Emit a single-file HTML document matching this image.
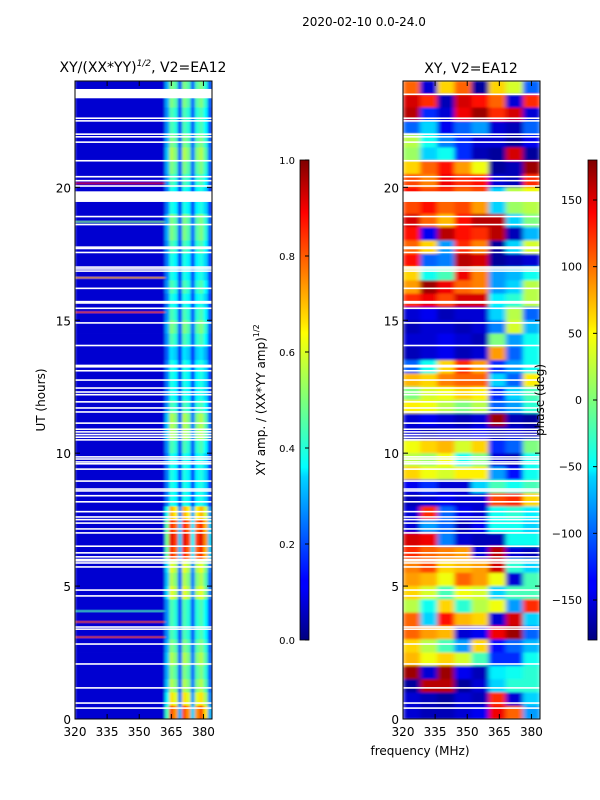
<!DOCTYPE html>
<html><head><meta charset="utf-8"><style>
html,body{margin:0;padding:0;background:#fff;}
svg{display:block;font-family:"DejaVu Sans","Liberation Sans",sans-serif;}
</style></head><body>
<svg id="fig" width="600" height="800" viewBox="0 0 600 800" xmlns="http://www.w3.org/2000/svg">
<defs>
<linearGradient id="jet" x1="0" y1="1" x2="0" y2="0">
<stop offset="0" stop-color="#00007f"/><stop offset="0.11" stop-color="#0000ff"/><stop offset="0.125" stop-color="#0000ff"/><stop offset="0.34" stop-color="#00d4ff"/><stop offset="0.36" stop-color="#0ff"/><stop offset="0.5" stop-color="#7dff7a"/><stop offset="0.64" stop-color="#ff0"/><stop offset="0.66" stop-color="#ffe600"/><stop offset="0.89" stop-color="#f00"/><stop offset="1" stop-color="#7f0000"/>
</linearGradient>
<clipPath id="clipL"><rect x="75" y="81" width="137" height="638"/></clipPath>
<clipPath id="clipR"><rect x="403" y="81" width="137" height="638"/></clipPath>
<filter id="soft" x="-5%" y="-5%" width="110%" height="110%"><feGaussianBlur stdDeviation="1.2 0.6"/></filter>
<filter id="softP" x="-5%" y="-5%" width="110%" height="110%"><feGaussianBlur stdDeviation="2.5 1.0"/></filter>
</defs>
<rect x="0" y="0" width="600" height="800" fill="#fff"/>
<text x="364" y="26" font-size="12" text-anchor="middle">2020-02-10 0.0-24.0</text>
<text x="143" y="72" font-size="14" text-anchor="middle">XY/(XX*YY)<tspan font-size="9" font-style="italic" dy="-6">1/2</tspan><tspan dy="6">, V2=EA12</tspan></text>
<text x="471" y="73" font-size="14" text-anchor="middle">XY, V2=EA12</text>
<g clip-path="url(#clipL)"><g id="ampCells" filter="url(#soft)"></g></g>
<g clip-path="url(#clipR)"><g id="phCells" filter="url(#softP)"></g></g>
<g id="flags"></g>
<g id="axes"></g>
<rect x="300" y="160" width="9" height="480" fill="url(#jet)" stroke="#000" stroke-width="0.8"/>
<rect x="588" y="160" width="9" height="480" fill="url(#jet)" stroke="#000" stroke-width="0.8"/>
<g id="cbar"></g>
<text transform="translate(265,400) rotate(-90)" font-size="12" text-anchor="middle">XY amp. / (XX*YY amp)<tspan font-size="8" dy="-6">1/2</tspan></text>
<text transform="translate(544,400) rotate(-90)" font-size="12" text-anchor="middle">phase (deg)</text>
<text transform="translate(45,400) rotate(-90)" font-size="12" text-anchor="middle">UT (hours)</text>
<text x="420" y="755" font-size="12" text-anchor="middle">frequency (MHz)</text>
</svg>
<script>
// ---- data ----
var freqTicks = [320, 335, 350, 365, 380];
var timeTicks = [0, 5, 10, 15, 20];
var ampTicks = [0.0, 0.2, 0.4, 0.6, 0.8, 1.0];
var phaseTicks = [-150, -100, -50, 0, 50, 100, 150];
// amplitude: 2 MHz columns, column weight toward the bright band
var ampColWeight = [0,0,0,0,0,0,0,0,0,0,0,0,0,0,0,0,0,0,0,0,0,0.5,1.0,0.9,0.3,1.0,0.9,0.35,0.9,1.0,0.8,0.3];
var ampBackground = 0.08;
// peak amplitude per half-hour row, from 23.5 h down to 0 h
var ampRowPeak = [0.5,0.5,0.45,0.45,0.5,0.55,0.5,0.45,0.4,0.4,0.5,0.5,0.45,0.4,0.4,0.45,0.4,0.45,0.5,0.45,0.35,0.4,0.4,0.4,
                  0.45,0.55,0.55,0.45,0.4,0.4,0.4,0.4,0.7,0.85,0.9,0.85,0.6,0.55,0.6,0.45,0.45,0.45,0.5,0.55,0.5,0.55,0.65,0.8];
// RFI spikes in amplitude
var rfiTimes = [20.15, 18.7, 16.6, 15.3, 4.06, 3.65, 3.08];
var rfiAmps  = [0.9, 0.5, 0.7, 0.8, 0.45, 0.8, 0.8];
// phase: 8 MHz columns x half-hour rows, from 23.5 h down
var phaseRows = [
[100,-150,60,100,-170,60,30,-100],[150,120,-160,150,130,100,-150,120],[160,-120,-150,140,170,120,150,-150],
[-100,-60,-140,-100,-80,-150,-160,-100],[20,-40,-90,-120,-150,-150,-170,-140],[10,-60,-40,-120,-160,-170,150,-170],
[60,100,130,80,40,-170,-160,170],[110,90,140,120,130,-150,-160,120],[130,110,120,100,110,-60,20,40],
[110,130,100,110,80,-60,10,20],[150,100,70,130,160,160,-60,0],[130,-140,160,130,120,160,-160,-70],
[100,60,-80,120,90,-170,-60,30],[130,-100,-90,160,150,-170,-160,-150],[60,-40,-20,140,90,-80,-70,-40],
[80,170,140,100,90,-80,-60,20],[120,140,110,150,150,-50,-30,20],[-150,-140,-160,-150,-150,-60,20,-100],
[-160,-150,-150,-160,-150,-90,30,-70],[-150,-150,-140,-150,-160,0,-80,-40],[-160,-150,-140,-160,-150,80,-100,-40],
[-100,-40,60,120,80,-120,-80,-40],[70,60,90,100,100,-60,-100,50],[0,30,40,60,50,-120,-60,-20],
[50,40,20,0,20,-100,-80,-30],[-150,-140,-150,-160,-150,170,-160,-170],[-150,-160,-150,-150,-140,-160,-150,-160],
[40,60,70,30,60,-120,-100,0],[20,10,40,-40,0,-150,-160,-40],[60,40,30,50,50,-80,-130,-40],
[-140,-120,-150,-150,-60,-20,-40,-20],[-160,-150,-140,-150,-150,110,120,60],[-150,120,-100,-140,-150,-40,-30,-50],
[-150,-80,-100,-160,-140,-40,-40,-60],[150,140,-90,-150,-160,-160,-40,-40],[120,100,90,80,-150,160,-150,-160],
[90,110,60,70,80,150,-30,-60],[80,70,40,100,80,40,-150,-20],[60,30,-20,40,30,-60,-20,-20],
[20,-40,60,-30,20,40,-80,120],[100,-60,130,70,60,-150,150,-60],[100,80,70,-150,-140,140,170,-100],
[60,20,-20,-80,60,-130,-100,-70],[70,40,60,30,-20,-120,-120,-40],[170,-150,170,-140,-160,-50,-40,-30],
[-170,160,160,-170,-150,-60,-30,-30],[-150,-160,-170,-150,-160,120,-150,-60],[-150,-160,-160,-150,-140,140,100,-80]
];
// flagged (blanked) integrations
var flagTimes = [23.5,22.6,22.5,22.0,21.9,21.7,21.0,20.4,20.25,20.05,18.9,18.6,17.75,17.7,17.55,17.0,16.93,16.85,16.2,15.7,15.65,15.45,14.9,14.05,13.3,13.25,13.1,12.75,12.45,12.3,12.2,11.93,11.7,11.55,11.13,10.9,10.8,10.7,10.6,10.5,9.86,9.78,9.67,9.6,9.4,8.95,8.65,8.58,8.4,8.17,7.8,7.6,7.5,7.37,7.15,7.0,6.5,6.25,6.1,6.0,5.95,5.87,5.72,4.85,4.63,3.46,3.38,2.82,2.07,1.17,0.6,0.41];
var gapStarts = [19.45];
var gapEnds = [19.85];
var leftGapStarts = [23.35];
var leftGapEnds = [23.7];

// ---- scales ----
var NS = "http://www.w3.org/2000/svg";
var F0 = 320, F1 = 384, T0 = 0, T1 = 24;
function xL(f){ return 75 + (f - F0) / (F1 - F0) * 137; }
function xR(f){ return 403 + (f - F0) / (F1 - F0) * 137; }
function yT(t){ return 719 - (t - T0) / (T1 - T0) * 638; }
function yAmp(v){ return 640 - v * 480; }
function yPh(v){ return 400 - v / 180 * 240; }
function jet(x){
  x = Math.max(0, Math.min(1, x));
  function c(v){ return Math.round(255 * Math.max(0, Math.min(1, v))); }
  return "rgb(" + c(1.5 - Math.abs(4*x - 3)) + "," + c(1.5 - Math.abs(4*x - 2)) + "," + c(1.5 - Math.abs(4*x - 1)) + ")";
}
function mk(tag, attrs, parent){
  var e = document.createElementNS(NS, tag);
  for (var k in attrs) e.setAttribute(k, attrs[k]);
  parent.appendChild(e); return e;
}

// amplitude cells
var gA = document.getElementById("ampCells");
var nRows = ampRowPeak.length, dT = (T1 - T0) / nRows;
for (var r = 0; r < nRows; r++) {
  var tTop = T1 - r * dT;
  for (var c = 0; c < ampColWeight.length; c++) {
    var f = F0 + c * 2;
    var v = ampBackground + ampColWeight[c] * (ampRowPeak[r] - ampBackground);
    var e = mk("rect", {x: xL(f), y: yT(tTop), width: xL(f+2) - xL(f) + 0.4, height: yT(tTop - dT) - yT(tTop) + 0.4, fill: jet(v)}, gA);
    
    
  }
}
for (var i = 0; i < rfiTimes.length; i++) {
  var e = mk("rect", {x: xL(320), y: yT(rfiTimes[i]) - 0.8, width: xL(362) - xL(320), height: 1.6, fill: jet(rfiAmps[i]), opacity: 0.8}, gA);
  
  
}
// phase cells
var gP = document.getElementById("phCells");
var nPR = phaseRows.length, dPT = (T1 - T0) / nPR;
for (var r = 0; r < nPR; r++) {
  var tTop = T1 - r * dPT;
  for (var c = 0; c < phaseRows[r].length; c++) {
    var f = F0 + c * 8;
    var e = mk("rect", {x: xR(f), y: yT(tTop), width: xR(f+8) - xR(f) + 0.4, height: yT(tTop - dPT) - yT(tTop) + 0.4, fill: jet((phaseRows[r][c] + 180) / 360)}, gP);
    
    
  }
}
// flags
var gF = document.getElementById("flags");
[xL, xR].forEach(function(xs){
  flagTimes.forEach(function(t){
    var e = mk("rect", {x: xs(F0), y: yT(t) - 0.8, width: 137, height: 1.6, fill: "#fff"}, gF);
    
    
  });
  for (var i = 0; i < gapStarts.length; i++) {
    var e = mk("rect", {x: xs(F0), y: yT(gapEnds[i]), width: 137, height: yT(gapStarts[i]) - yT(gapEnds[i]), fill: "#fff"}, gF);
    
    
  }
});
for (var i = 0; i < leftGapStarts.length; i++) {
  var e = mk("rect", {x: xL(F0), y: yT(leftGapEnds[i]), width: 137, height: yT(leftGapStarts[i]) - yT(leftGapEnds[i]), fill: "#fff"}, gF);
  
  
}
// axes
var gX = document.getElementById("axes");
[[xL, 75], [xR, 403]].forEach(function(p){
  var xs = p[0], x0 = p[1];
  var fr = mk("rect", {x: x0, y: 81, width: 137, height: 638, fill: "none", stroke: "#000", "stroke-width": 1}, gX);
  
  
  freqTicks.forEach(function(f){
    var X = xs(f);
    mk("line", {x1: X, y1: 719, x2: X, y2: 714, stroke: "#000"}, gX);
    mk("line", {x1: X, y1: 81, x2: X, y2: 86, stroke: "#000"}, gX);
    var t = mk("text", {x: X, y: 736, "font-size": 12, "text-anchor": "middle"}, gX);
    t.textContent = f;
    
    
  });
  timeTicks.forEach(function(v){
    var Y = yT(v);
    mk("line", {x1: x0, y1: Y, x2: x0 + 5, y2: Y, stroke: "#000"}, gX);
    mk("line", {x1: x0 + 137, y1: Y, x2: x0 + 132, y2: Y, stroke: "#000"}, gX);
    var t = mk("text", {x: x0 - 4, y: Y + 5, "font-size": 12, "text-anchor": "end"}, gX);
    t.textContent = v;
    
    
  });
});
// colorbar ticks
var gC = document.getElementById("cbar");
ampTicks.forEach(function(v){
  var Y = yAmp(v);
  mk("line", {x1: 305, y1: Y, x2: 309, y2: Y, stroke: "#000"}, gC);
  var t = mk("text", {x: 295, y: Y + 4, "font-size": 10, "text-anchor": "end"}, gC);
  t.textContent = v.toFixed(1);
  
  
});
phaseTicks.forEach(function(v){
  var Y = yPh(v);
  mk("line", {x1: 593, y1: Y, x2: 597, y2: Y, stroke: "#000"}, gC);
  var t = mk("text", {x: 582, y: Y + 4, "font-size": 11, "text-anchor": "end"}, gC);
  t.textContent = v < 0 ? "\u2212" + (-v) : String(v);
  
  
});
</script>
</body></html>
